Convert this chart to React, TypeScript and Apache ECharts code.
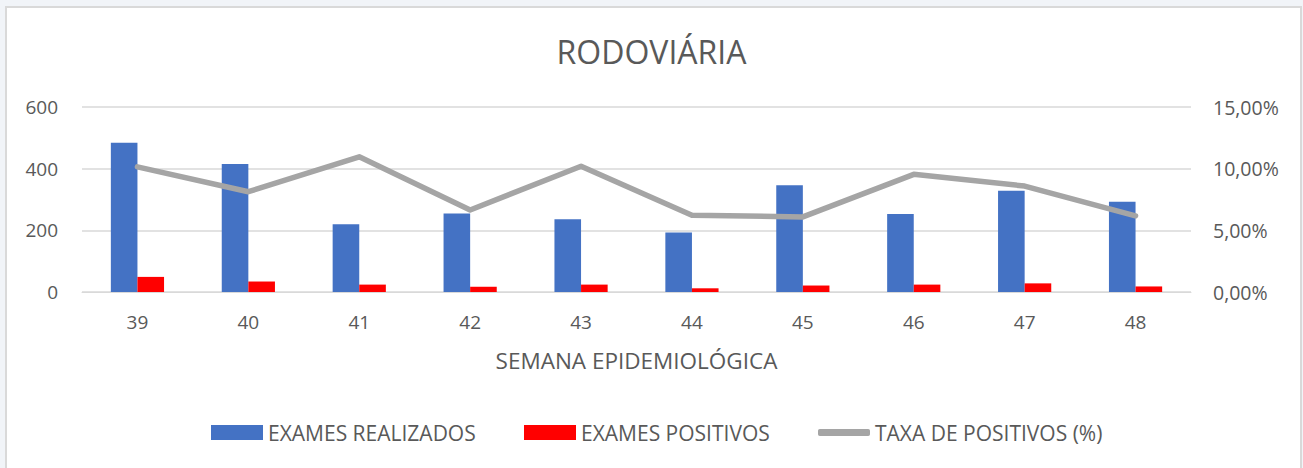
import React, { useEffect, useRef } from "react";
import * as echarts from "echarts";

const weeks = ["39", "40", "41", "42", "43", "44", "45", "46", "47", "48"];
const examesRealizados = [484, 415, 220, 255, 236, 193, 346, 253, 328, 293];
const examesPositivos = [49, 34, 24, 17, 24, 12, 21, 24, 28, 18];
const taxaPositivos = [10.15, 8.13, 10.96, 6.65, 10.2, 6.22, 6.09, 9.54, 8.59, 6.17];

const TEXT = "#595959";
const FONT = "Open Sans";

export default function App() {
  const ref = useRef<HTMLDivElement>(null);
  useEffect(() => {
    document.body.style.margin = "0";
    const chart = echarts.init(ref.current!, undefined, { renderer: "svg" });
    const legendBase = {
      orient: "horizontal",
      top: 422,
      padding: 0,
      itemWidth: 52,
      itemHeight: 15,
      itemGap: 40,
      textStyle: { color: TEXT, fontSize: 21, fontFamily: FONT, padding: [0, 0, 0, 0] },
      selectedMode: false,
    };
    chart.setOption({
      animation: false,
      backgroundColor: "transparent",
      textStyle: { fontFamily: FONT },
      title: {
        text: "RODOVIÁRIA",
        left: "center",
        top: 30,
        textStyle: { color: TEXT, fontSize: 32, fontWeight: "normal", fontFamily: FONT },
      },
      graphic: [
        {
          type: "rect",
          z: -10,
          shape: { x: 6, y: 7, width: 1295, height: 470 },
          style: { fill: "#ffffff", stroke: "#d9d9d9", lineWidth: 2 },
        },
      ],
      legend: [
        { ...legendBase, left: 211, data: [{ name: "EXAMES REALIZADOS", icon: "rect" }] },
        { ...legendBase, left: 524, data: [{ name: "EXAMES POSITIVOS", icon: "rect" }] },
        {
          ...legendBase,
          left: 818,
          itemHeight: 7,
          data: [
            {
              name: "TAXA DE POSITIVOS (%)",
              icon: "roundRect",
              itemStyle: { color: "#a5a5a5", borderWidth: 0 },
            },
          ],
        },
      ],
      grid: { left: 82, right: 112, top: 107, bottom: 176, containLabel: false },
      xAxis: {
        type: "category",
        data: weeks,
        axisLine: { lineStyle: { color: "#d9d9d9", width: 1 } },
        axisTick: { show: false },
        axisLabel: { color: TEXT, fontSize: 19, margin: 20, fontFamily: FONT },
        name: "SEMANA EPIDEMIOLÓGICA",
        nameLocation: "middle",
        nameGap: 57,
        nameTextStyle: { color: TEXT, fontSize: 22.5, fontFamily: FONT },
      },
      yAxis: [
        {
          type: "value",
          min: 0,
          max: 600,
          interval: 200,
          axisLine: { show: false },
          axisTick: { show: false },
          axisLabel: { color: TEXT, fontSize: 19, margin: 24, fontFamily: FONT },
          splitLine: { lineStyle: { color: "#d9d9d9", width: 1.5 } },
        },
        {
          type: "value",
          min: 0,
          max: 15,
          interval: 5,
          position: "right",
          axisLine: { show: false },
          axisTick: { show: false },
          axisLabel: {
            color: TEXT,
            fontSize: 19.5,
            margin: 22,
            fontFamily: FONT,
            formatter: (v: number) => v.toFixed(2).replace(".", ",") + "%",
          },
          splitLine: { show: false },
        },
      ],
      series: [
        {
          name: "EXAMES REALIZADOS",
          type: "bar",
          data: examesRealizados,
          barWidth: 26.6,
          barGap: "0%",
          itemStyle: { color: "#4472c4" },
        },
        {
          name: "EXAMES POSITIVOS",
          type: "bar",
          data: examesPositivos,
          barWidth: 26.6,
          barGap: "0%",
          itemStyle: { color: "#ff0000" },
        },
        {
          name: "TAXA DE POSITIVOS (%)",
          type: "line",
          yAxisIndex: 1,
          data: taxaPositivos,
          symbol: "none",
          lineStyle: { color: "#a5a5a5", width: 5.5, cap: "round", join: "round" },
          itemStyle: { color: "#a5a5a5" },
        },
      ],
    });
    return () => chart.dispose();
  }, []);
  return (
    <div style={{ width: 1303, height: 468, background: "#f1f4f8", position: "relative" }}>
      <div ref={ref} style={{ width: 1303, height: 468 }} />
    </div>
  );
}
